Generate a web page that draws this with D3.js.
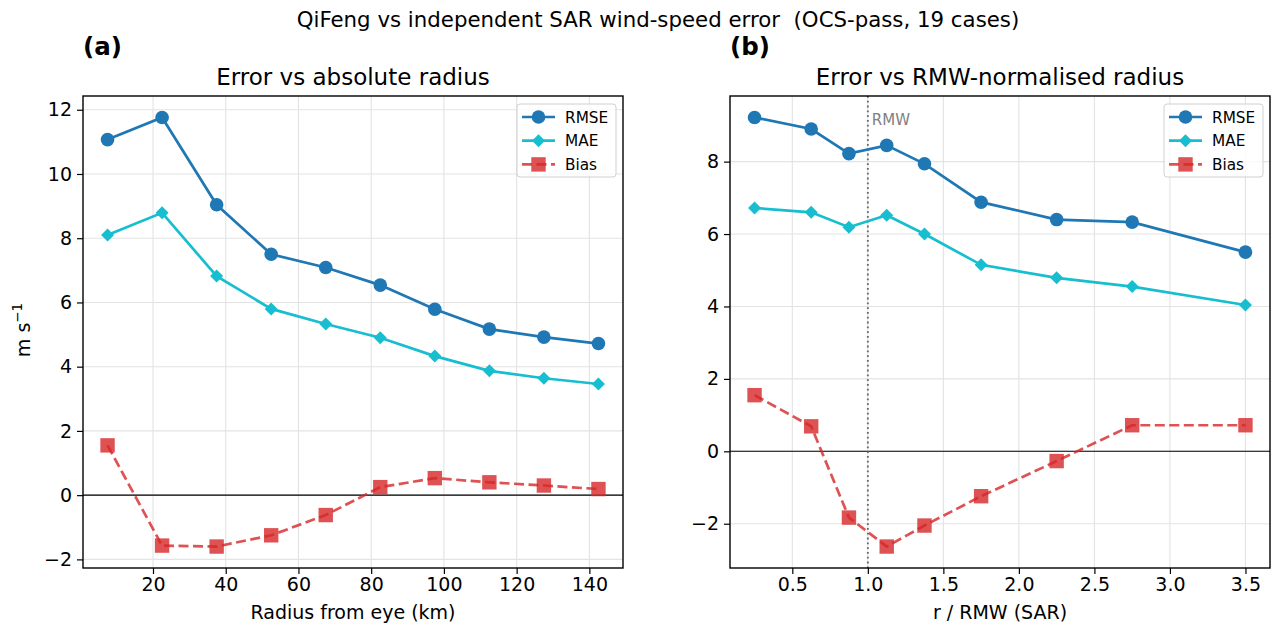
<!DOCTYPE html>
<html>
<head>
<meta charset="utf-8">
<script src="https://cdn.jsdelivr.net/npm/d3@7"></script>
<style>
body { margin:0; background:#fff; font-family:"DejaVu Sans", sans-serif; }
text { white-space: pre; }
</style>
</head>
<body>
<div id="chart"></div>
<script>
// panel (a): absolute radius bins
var radiusKm = [7.5, 22.5, 37.5, 52.5, 67.5, 82.5, 97.5, 112.5, 127.5, 142.5];
var rmseA = [11.07, 11.76, 9.04, 7.50, 7.09, 6.54, 5.79, 5.17, 4.92, 4.72];
var maeA = [8.10, 8.79, 6.82, 5.80, 5.33, 4.90, 4.33, 3.87, 3.64, 3.46];
var biasA = [1.55, -1.57, -1.60, -1.25, -0.62, 0.25, 0.53, 0.40, 0.30, 0.19];

// panel (b): RMW-normalised radius bins
var radiusNorm = [0.25, 0.625, 0.875, 1.125, 1.375, 1.75, 2.25, 2.75, 3.5];
var rmseB = [9.22, 8.90, 8.22, 8.45, 7.94, 6.88, 6.40, 6.33, 5.50];
var maeB = [6.72, 6.60, 6.19, 6.52, 6.00, 5.15, 4.79, 4.55, 4.04];
var biasB = [1.55, 0.69, -1.83, -2.63, -2.05, -1.24, -0.27, 0.72, 0.72];

var ticksXA = [20, 40, 60, 80, 100, 120, 140];
var ticksYA = [-2, 0, 2, 4, 6, 8, 10, 12];
var ticksXB = [0.5, 1.0, 1.5, 2.0, 2.5, 3.0, 3.5];
var ticksYB = [-2, 0, 2, 4, 6, 8];

var W = 1276, H = 623;
var svg = d3.select("#chart").append("svg")
	.attr("width", W)
	.attr("height", H);

svg.append("text")
	.attr("x", 658)
	.attr("y", 27)
	.attr("text-anchor", "middle")
	.style("font-size", "21.3px")
	.text("QiFeng vs independent SAR wind-speed error  (OCS-pass, 19 cases)");

// margins like matplotlib: 5% of data range
function padded(vals)
{
	var lo = d3.min(vals), hi = d3.max(vals);
	var m = (hi - lo) * 0.05;
	return [lo - m, hi + m];
}

var LW = 2.7;

function drawPanel(opt)
{
	var left = opt.left, top = 96, w = 540, h = 472;
	var g = svg.append("g").attr("transform", "translate(" + left + "," + top + ")");

	var x = d3.scaleLinear().domain(padded(opt.xs)).range([0, w]);
	var allY = opt.rmse.concat(opt.mae).concat(opt.bias);
	var y = d3.scaleLinear().domain(padded(allY)).range([h, 0]);

	// grid
	g.selectAll(".gx").data(opt.ticksX).enter().append("line")
		.attr("x1", function(d) { return x(d); })
		.attr("x2", function(d) { return x(d); })
		.attr("y1", 0).attr("y2", h)
		.attr("stroke", "#e3e3e3").attr("stroke-width", 1.1);
	g.selectAll(".gy").data(opt.ticksY).enter().append("line")
		.attr("y1", function(d) { return y(d); })
		.attr("y2", function(d) { return y(d); })
		.attr("x1", 0).attr("x2", w)
		.attr("stroke", "#e3e3e3").attr("stroke-width", 1.1);

	// zero line
	g.append("line")
		.attr("x1", 0).attr("x2", w)
		.attr("y1", y(0)).attr("y2", y(0))
		.attr("stroke", "#000").attr("stroke-width", 1.1);

	if(opt.rmw)
	{
		g.append("line")
			.attr("x1", x(1)).attr("x2", x(1))
			.attr("y1", 0).attr("y2", h)
			.attr("stroke", "#666")
			.attr("stroke-width", 1.8)
			.attr("stroke-dasharray", "1.8,3");
		g.append("text")
			.attr("x", x(1) + 4)
			.attr("y", 29)
			.attr("fill", "#808080")
			.style("font-size", "15px")
			.text("RMW");
	}

	var line = d3.line()
		.x(function(d, i) { return x(opt.xs[i]); })
		.y(function(d) { return y(d); });

	// bias (dashed, squares)
	g.append("path").datum(opt.bias)
		.attr("d", line)
		.attr("fill", "none")
		.attr("stroke", "#d62728")
		.attr("stroke-opacity", 0.8)
		.attr("stroke-width", LW)
		.attr("stroke-dasharray", "10,4.5");
	g.selectAll(".bias").data(opt.bias).enter().append("rect")
		.attr("x", function(d, i) { return x(opt.xs[i]) - 7.2; })
		.attr("y", function(d) { return y(d) - 7.2; })
		.attr("width", 14.4).attr("height", 14.4)
		.attr("fill", "#d62728")
		.attr("fill-opacity", 0.8);

	// MAE (diamonds)
	g.append("path").datum(opt.mae)
		.attr("d", line)
		.attr("fill", "none")
		.attr("stroke", "#17becf")
		.attr("stroke-width", LW);
	g.selectAll(".mae").data(opt.mae).enter().append("path")
		.attr("d", "M0,-6.5L6.5,0L0,6.5L-6.5,0Z")
		.attr("transform", function(d, i) { return "translate(" + x(opt.xs[i]) + "," + y(d) + ")"; })
		.attr("fill", "#17becf");

	// RMSE (circles)
	g.append("path").datum(opt.rmse)
		.attr("d", line)
		.attr("fill", "none")
		.attr("stroke", "#1f77b4")
		.attr("stroke-width", LW);
	g.selectAll(".rmse").data(opt.rmse).enter().append("circle")
		.attr("cx", function(d, i) { return x(opt.xs[i]); })
		.attr("cy", function(d) { return y(d); })
		.attr("r", 6.8)
		.attr("fill", "#1f77b4");

	// axes
	var ax = g.append("g").attr("transform", "translate(0," + h + ")")
		.call(d3.axisBottom(x).tickValues(opt.ticksX).tickSize(6).tickPadding(4)
			.tickFormat(opt.fmtX));
	var ay = g.append("g")
		.call(d3.axisLeft(y).tickValues(opt.ticksY).tickSize(6).tickPadding(5)
			.tickFormat(function(d) { return d < 0 ? "\u2212" + Math.abs(d) : d; }));
	[ax, ay].forEach(function(a)
	{
		a.select(".domain").remove();
		a.selectAll("line").attr("stroke", "#000").attr("stroke-width", 1.2);
		a.selectAll("text").style("font-size", "19px").style("font-family", "DejaVu Sans").attr("fill", "#000");
	});

	g.append("rect")
		.attr("width", w).attr("height", h)
		.attr("fill", "none").attr("stroke", "#000").attr("stroke-width", 1.4);

	g.append("text")
		.attr("x", w / 2).attr("y", -11)
		.attr("text-anchor", "middle")
		.style("font-size", "23px")
		.text(opt.title);
	g.append("text")
		.attr("x", 0).attr("y", -41)
		.style("font-size", "24.5px")
		.style("font-weight", "bold")
		.text(opt.tag);
	g.append("text")
		.attr("x", w / 2).attr("y", h + 51)
		.attr("text-anchor", "middle")
		.style("font-size", "19px")
		.text(opt.xlabel);

	// legend
	var lg = g.append("g").attr("transform", "translate(" + (w - 106) + ",8)");
	lg.append("rect")
		.attr("width", 99).attr("height", 73)
		.attr("rx", 3)
		.attr("fill", "#fff").attr("fill-opacity", 0.8)
		.attr("stroke", "#d0d0d0");
	var items = [
		{name:"RMSE", color:"#1f77b4", shape:"circle", dash:null, op:1},
		{name:"MAE", color:"#17becf", shape:"diamond", dash:null, op:1},
		{name:"Bias", color:"#d62728", shape:"square", dash:"10,4.5", op:0.8}
	];
	items.forEach(function(it, i)
	{
		var yy = 13 + i * 23.7;
		lg.append("line")
			.attr("x1", 5).attr("x2", 38)
			.attr("y1", yy).attr("y2", yy)
			.attr("stroke", it.color)
			.attr("stroke-opacity", it.op)
			.attr("stroke-width", LW)
			.attr("stroke-dasharray", it.dash);
		if(it.shape == "circle")
			lg.append("circle").attr("cx", 21.5).attr("cy", yy).attr("r", 6.8).attr("fill", it.color);
		else if(it.shape == "diamond")
			lg.append("path").attr("d", "M0,-6.5L6.5,0L0,6.5L-6.5,0Z")
				.attr("transform", "translate(21.5," + yy + ")").attr("fill", it.color);
		else
			lg.append("rect").attr("x", 14.3).attr("y", yy - 7.2).attr("width", 14.4).attr("height", 14.4)
				.attr("fill", it.color).attr("fill-opacity", it.op);
		lg.append("text")
			.attr("x", 48).attr("y", yy + 5.5)
			.style("font-size", "15.3px")
			.text(it.name);
	});
}

drawPanel({
	left:83, xs:radiusKm, rmse:rmseA, mae:maeA, bias:biasA,
	ticksX:ticksXA, ticksY:ticksYA, fmtX:d3.format("d"),
	title:"Error vs absolute radius", tag:"(a)", xlabel:"Radius from eye (km)", rmw:false
});
drawPanel({
	left:730, xs:radiusNorm, rmse:rmseB, mae:maeB, bias:biasB,
	ticksX:ticksXB, ticksY:ticksYB, fmtX:d3.format(".1f"),
	title:"Error vs RMW-normalised radius", tag:"(b)", xlabel:"r / RMW (SAR)", rmw:true
});

// y label
svg.append("text")
	.attr("transform", "translate(30,330) rotate(-90)")
	.attr("text-anchor", "middle")
	.style("font-size", "19px")
	.html("m s<tspan dy='-8' font-size='13.5px'>\u22121</tspan>");
</script>
</body>
</html>
